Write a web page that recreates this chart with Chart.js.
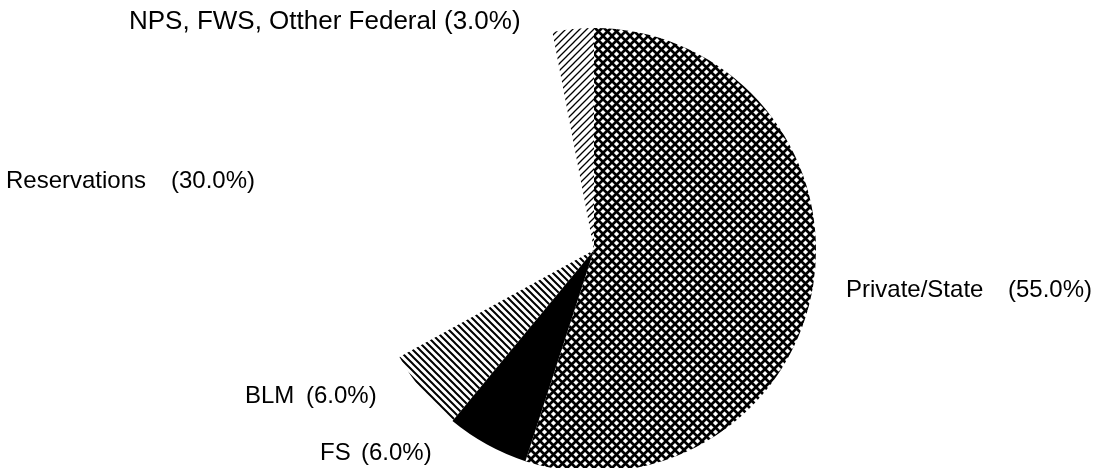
<!DOCTYPE html>
<html>
<head>
<meta charset="utf-8">
<script src="https://cdn.jsdelivr.net/npm/chart.js@4"></script>
<style>
  html, body { margin: 0; padding: 0; background: #fff; }
  canvas { display: block; }
</style>
</head>
<body>
<canvas id="landChart" width="1095" height="468"></canvas>
<script>
// slice data, clockwise from 12 o'clock
const categories = ["Private/State", "FS", "BLM", "Reservations", "NPS, FWS, Otther Federal"];
const shares = [55, 6, 6, 30, 3];
const pctLabels = ["(55.0%)", "(6.0%)", "(6.0%)", "(30.0%)", "(3.0%)"];

// hatch fills made on a small tile canvas
function makePattern(size, draw) {
  const c = document.createElement("canvas");
  c.width = size;
  c.height = size;
  const g = c.getContext("2d");
  g.strokeStyle = "#000";
  draw(g, size);
  return g.createPattern(c, "repeat");
}

const ctx = document.getElementById("landChart").getContext("2d");

const crossHatch = makePattern(9, (g, s) => {
  g.lineWidth = 2.7;
  g.beginPath();
  g.moveTo(-1, -1); g.lineTo(s + 1, s + 1);
  g.moveTo(-1, s + 1); g.lineTo(s + 1, -1);
  g.stroke();
});
const backHatch = makePattern(7, (g, s) => {
  g.lineWidth = 2;
  g.beginPath();
  g.moveTo(-1, -1); g.lineTo(s + 1, s + 1);
  g.moveTo(-1, s - 1); g.lineTo(1, s + 1);
  g.moveTo(s - 1, -1); g.lineTo(s + 1, 1);
  g.stroke();
});
const fwdHatch = makePattern(7, (g, s) => {
  g.lineWidth = 1.3;
  g.beginPath();
  g.moveTo(-1, s + 1); g.lineTo(s + 1, -1);
  g.moveTo(-1, 1); g.lineTo(1, -1);
  g.moveTo(s - 1, s + 1); g.lineTo(s + 1, s - 1);
  g.stroke();
});

const fills = [crossHatch, "#000", backHatch, "rgba(255,255,255,0)", fwdHatch];

// where each label sits, relative to the pie centre (text baseline, left)
const labelSpots = [
  { dx: 252, dy: 47, pctDx: 414, size: 24 },
  { dx: -274, dy: 210, pctDx: -233, size: 24 },
  { dx: -349, dy: 153, pctDx: -288, size: 24 },
  { dx: -588, dy: -62, pctDx: -423, size: 24 },
  { dx: -465, dy: -221, pctDx: null, size: 26 },
];

const sliceLabels = {
  id: "sliceLabels",
  afterDraw(chart) {
    const arc = chart.getDatasetMeta(0).data[0];
    if (!arc) return;
    const c = chart.ctx;
    c.save();
    c.fillStyle = "#000";
    c.textBaseline = "alphabetic";
    c.textAlign = "left";
    categories.forEach((name, i) => {
      const s = labelSpots[i];
      c.font = `${s.size}px "Liberation Sans", Arial, sans-serif`;
      if (s.pctDx === null) {
        c.fillText(name + " " + pctLabels[i], arc.x + s.dx, arc.y + s.dy);
      } else {
        c.fillText(name, arc.x + s.dx, arc.y + s.dy);
        c.fillText(pctLabels[i], arc.x + s.pctDx, arc.y + s.dy);
      }
    });
    c.restore();
  },
};

new Chart(ctx, {
  type: "pie",
  data: {
    labels: categories,
    datasets: [
      {
        data: shares,
        backgroundColor: fills,
        borderWidth: 0,
      },
    ],
  },
  options: {
    responsive: false,
    animation: false,
    radius: 222,
    layout: { padding: { left: 372, right: 279, top: 32, bottom: 0 } },
    plugins: {
      legend: { display: false },
      tooltip: { enabled: false },
    },
  },
  plugins: [sliceLabels],
});
</script>
</body>
</html>
